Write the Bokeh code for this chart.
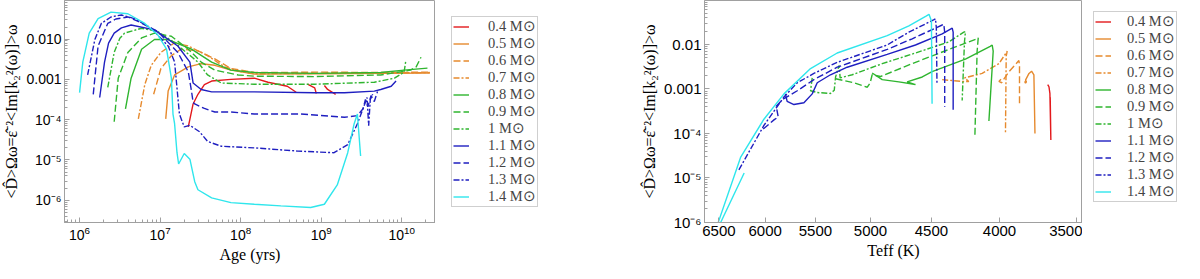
import math
from bokeh.plotting import figure
from bokeh.models import Range1d, Legend, LegendItem, FixedTicker, CustomJSTickFormatter, NumeralTickFormatter
from bokeh.layouts import row
from bokeh.embed import file_html
from bokeh.resources import INLINE

NaN = float("nan")

masses = ["0.4", "0.5", "0.6", "0.7", "0.8", "0.9", "1", "1.1", "1.2", "1.3", "1.4"]
colors = ["#e3191c", "#e68a2e", "#e68a2e", "#e68a2e", "#2fb52f", "#2fb52f", "#2fb52f",
          "#1f1fc0", "#1f1fc0", "#1f1fc0", "#2fe6ec"]
dashes = ["solid", "solid", "7 3", "6 2 2 2", "solid", "7 3", "6 2 2 2",
          "solid", "7 3", "6 2 2 2", "solid"]

# ---------- left panel: log10(age / yr) and log10(D) ----------
age_log_04 = [7.35, 7.41, 7.47, 7.55, 7.64, 7.88, 8.17, 8.34, 8.58, 8.69, NaN, 8.83, 8.92, 8.94, NaN, 9.04, 9.08, 9.18]
dage_log_04 = [-4.18, -3.61, -3.37, -3.13, -3.04, -3.00, -2.97, -3.07, -3.17, -3.32, NaN, -3.12, -3.21, -3.35, NaN, -3.15, -3.25, -3.37]
age_log_05 = [7.07, 7.10, 7.18, 7.35, 7.51, 7.68, 7.88, 8.17, 9.00, 9.80, 10.35]
dage_log_05 = [-3.98, -3.29, -2.89, -2.69, -2.61, -2.65, -2.77, -2.87, -2.86, -2.85, -2.84]
age_log_06 = [6.92, 7.01, 7.14, 7.26, 7.47, 7.68, 7.88, 8.17, 9.00, 9.80, 10.35]
dage_log_06 = [-3.37, -2.73, -2.41, -2.25, -2.29, -2.49, -2.73, -2.83, -2.82, -2.83, -2.82]
age_log_07 = [6.73, 6.81, 6.89, 7.01, 7.18, 7.35, 7.59, 7.80, 8.01, 8.17, 9.00, 9.80, 10.35]
dage_log_07 = [-3.98, -3.13, -2.65, -2.33, -2.09, -2.17, -2.41, -2.69, -2.81, -2.86, -2.85, -2.84, -2.83]
age_log_08 = [6.57, 6.64, 6.77, 6.93, 7.10, 7.39, 7.64, 7.88, 8.17, 8.92, 9.74, 10.03, 10.32]
dage_log_08 = [-3.73, -2.97, -2.25, -2.01, -2.01, -2.25, -2.57, -2.77, -2.83, -2.85, -2.83, -2.77, -2.72]
age_log_09 = [6.43, 6.46, 6.48, 6.60, 6.77, 6.93, 7.14, 7.35, 7.51, 7.68, 7.97, 8.17, 8.92, 9.74, 9.99, 10.11, 10.18, 10.24]
dage_log_09 = [-4.05, -3.40, -2.97, -2.33, -1.97, -1.85, -1.93, -2.25, -2.57, -2.77, -2.89, -2.92, -2.93, -2.89, -2.81, -2.77, -2.69, -2.45]
age_log_10 = [6.35, 6.43, 6.50, 6.56, 6.77, 6.97, 7.18, 7.47, 7.59, 7.76, 8.17, 8.92, 9.66, 9.91, 10.03, 10.05]
dage_log_10 = [-3.20, -2.33, -1.98, -1.85, -1.73, -1.81, -2.09, -2.57, -2.89, -3.09, -3.12, -3.12, -3.07, -2.97, -2.82, -2.55]
age_log_11 = [6.25, 6.31, 6.36, 6.43, 6.52, 6.64, 6.93, 7.22, 7.37, 7.41, 7.51, 7.64, 8.17, 8.92, 9.29, 9.66, 9.74, 9.87, 9.93]
dage_log_11 = [-3.45, -2.57, -2.10, -1.85, -1.72, -1.65, -1.77, -2.17, -2.57, -3.09, -3.25, -3.31, -3.31, -3.33, -3.33, -3.29, -3.25, -3.17, -3.04]
age_log_12 = [6.17, 6.23, 6.35, 6.45, 6.60, 6.75, 6.97, 7.22, 7.35, 7.39, 7.41, 7.43, 7.55, 7.68, 7.88, 8.17, 8.75, 9.29, 9.45, 9.52, 9.55, 9.58, 9.62, 9.66, 9.70]
dage_log_12 = [-3.37, -2.17, -1.61, -1.50, -1.45, -1.58, -1.81, -2.33, -2.81, -3.29, -3.57, -3.61, -3.72, -3.81, -3.81, -3.86, -3.86, -3.94, -3.90, -3.73, -3.50, -3.68, -3.40, -3.55, -3.30]
age_log_13 = [6.10, 6.19, 6.27, 6.39, 6.52, 6.68, 6.89, 7.10, 7.18, 7.24, 7.30, 7.37, 7.49, 7.59, 7.76, 8.17, 8.71, 9.16, 9.33, 9.45, 9.54, 9.57, 9.59, 9.61, 9.64]
dage_log_13 = [-2.89, -2.01, -1.61, -1.45, -1.40, -1.49, -1.73, -2.17, -2.57, -3.86, -4.18, -4.14, -4.30, -4.54, -4.66, -4.70, -4.78, -4.82, -4.62, -4.10, -3.62, -3.45, -4.15, -3.50, -3.37]
age_log_14 = [6.00, 6.04, 6.12, 6.23, 6.39, 6.60, 6.81, 6.97, 7.08, 7.14, 7.16, 7.18, 7.21, 7.23, 7.30, 7.37, 7.43, 7.47, 7.64, 7.88, 8.17, 8.50, 8.87, 9.04, 9.20, 9.33, 9.41, 9.45, 9.49]
dage_log_14 = [-3.33, -2.57, -1.85, -1.49, -1.33, -1.37, -1.61, -1.89, -2.25, -2.97, -3.86, -4.10, -4.82, -5.10, -4.84, -4.98, -5.54, -5.74, -5.94, -6.06, -6.10, -6.14, -6.18, -6.10, -5.62, -4.82, -4.10, -3.86, -4.90]

# ---------- right panel: Teff (K) and log10(D) ----------
teff_04 = [3680, 3672, 3666, 3660, 3664]
dteff_log_04 = [-2.90, -2.95, -3.10, -4.15, -3.20]
teff_05 = [3830, 3824, 3818, 3824, 3801, 3784, 3769, 3762]
dteff_log_05 = [-2.83, -2.87, -2.84, -2.80, -2.65, -2.60, -2.68, -4.00]
teff_06 = [3990, 4004, 3985, 3975, 3935, 3868, 3864, 3864]
dteff_log_06 = [-2.78, -2.83, -2.86, -2.80, -2.61, -2.36, -2.47, -3.36]
teff_07 = [4417, 4267, 4218, 4250, 4122, 4004, 3947, 3954, 3959]
dteff_log_07 = [-2.79, -2.83, -2.83, -2.75, -2.65, -2.43, -2.15, -2.26, -4.00]
teff_08 = [4986, 4900, 4761, 4626, 4693, 4572, 4495, 4243, 4065, 4051, 4044, 4074]
dteff_log_08 = [-2.64, -2.79, -2.84, -2.90, -2.84, -2.73, -2.61, -2.33, -2.04, -2.01, -2.15, -3.72]
teff_09 = [5312, 5147, 5028, 5003, 4986, 4915, 4626, 4366, 4158, 4150, 4158, 4174]
dteff_log_09 = [-2.77, -2.86, -2.96, -2.86, -2.68, -2.72, -2.40, -2.11, -1.87, -1.85, -2.15, -4.04]
teff_10 = [5531, 5547, 5483, 5359, 5324, 5312, 5279, 5270, 5161, 4900, 4626, 4366, 4255, 4243, 4250, 4267]
dteff_log_10 = [-2.75, -3.04, -3.08, -3.10, -3.03, -2.73, -2.47, -2.75, -2.68, -2.43, -2.19, -1.94, -1.72, -1.71, -1.94, -3.26]
teff_11 = [5794, 5776, 5709, 5611, 5531, 5483, 5359, 5206, 4858, 4626, 4417, 4341, 4334, 4334]
dteff_log_11 = [-3.11, -3.28, -3.35, -3.31, -3.11, -2.86, -2.68, -2.51, -2.22, -2.01, -1.76, -1.63, -1.72, -3.47]
teff_12 = [6020, 5906, 5866, 5886, 5825, 5676, 5515, 5297, 4858, 4652, 4417, 4405, 4398, 4398]
dteff_log_12 = [-3.90, -3.69, -3.63, -3.39, -3.24, -3.04, -2.79, -2.51, -2.11, -1.87, -1.56, -1.54, -1.72, -3.40]
teff_13 = [6279, 6013, 5808, 5676, 5515, 5297, 4858, 4679, 4480, 4469, 4462, 4457]
dteff_log_13 = [-4.82, -3.82, -3.18, -2.86, -2.65, -2.40, -2.01, -1.72, -1.44, -1.42, -1.62, -2.90]
teff_14 = [6222, 6496, 6519, 6261, 6013, 5808, 5547, 5297, 4858, 4679, 4542, 4519, 4500, 4495]
dteff_log_14 = [-4.89, -6.07, -6.07, -4.54, -3.68, -3.11, -2.54, -2.19, -1.80, -1.58, -1.36, -1.32, -1.47, -3.33]

left_x = [age_log_04, age_log_05, age_log_06, age_log_07, age_log_08, age_log_09,
          age_log_10, age_log_11, age_log_12, age_log_13, age_log_14]
left_y = [dage_log_04, dage_log_05, dage_log_06, dage_log_07, dage_log_08, dage_log_09,
          dage_log_10, dage_log_11, dage_log_12, dage_log_13, dage_log_14]
right_x = [teff_04, teff_05, teff_06, teff_07, teff_08, teff_09, teff_10, teff_11, teff_12, teff_13, teff_14]
right_y = [dteff_log_04, dteff_log_05, dteff_log_06, dteff_log_07, dteff_log_08, dteff_log_09,
           dteff_log_10, dteff_log_11, dteff_log_12, dteff_log_13, dteff_log_14]

teff_ticks = [3500, 4000, 4500, 5000, 5500, 6000, 6500]

YLABEL = "<D\u0302>\u03a9\u03c9=\u03b5\u0302\u207b\u00b2<Im[k\u2082\u00b2(\u03c9)]>\u03c9"
SERIF = "Liberation Serif"
SANS = "Liberation Sans"
GRAY = "#a0a0a0"
FIG_H = 262


def pow10(v):
    return [10 ** t if t == t else NaN for t in v]


def y_formatter(two_digit):
    first = "0.010" if two_digit else "0.01"
    return CustomJSTickFormatter(code="""
const e = Math.round(Math.log10(tick));
if (e == -2) return "%s";
if (e == -3) return "0.001";
const sup = {"-":"\u207b","0":"\u2070","1":"\u00b9","2":"\u00b2","3":"\u00b3","4":"\u2074","5":"\u2075","6":"\u2076","7":"\u2077","8":"\u2078","9":"\u2079"};
return "10" + String(e).split("").map(c => sup[c]).join("");
""" % first)


def style(p, tick_size):
    p.outline_line_color = GRAY
    p.xgrid.visible = False
    p.ygrid.visible = False
    for ax in (p.xaxis[0], p.yaxis[0]):
        ax.axis_line_color = GRAY
        ax.major_tick_line_color = GRAY
        ax.minor_tick_line_color = GRAY
        ax.major_tick_in = 5
        ax.major_tick_out = 0
        ax.minor_tick_in = 3
        ax.minor_tick_out = 0
        ax.major_label_text_font = SANS
        ax.major_label_text_font_size = tick_size
        ax.major_label_text_color = "black"
        ax.axis_label_text_font = SERIF
        ax.axis_label_text_font_style = "normal"
        ax.axis_label_text_font_size = "16px"
        ax.axis_label_text_color = "black"
        ax.major_label_standoff = 3
        ax.axis_label_standoff = 3


def legend_figure(width, xs_list, ys_list, margin, standoff):
    # a plain panel holding only the legend; its lines reuse the series data,
    # which lies far outside this panel's 0..1 ranges, so only the legend shows
    f = figure(width=width, height=FIG_H, x_range=Range1d(0, 1), y_range=Range1d(0, 1),
               x_axis_location=None, y_axis_location=None, output_backend="svg",
               toolbar_location=None, min_border=0)
    f.outline_line_color = None
    f.xgrid.visible = False
    f.ygrid.visible = False
    items = []
    for m, c, d, xs, ys in zip(masses, colors, dashes, xs_list, ys_list):
        r = f.line(xs, ys, line_color=c, line_width=1.4, line_dash=d)
        items.append(LegendItem(label=f"{m} M\u2299", renderers=[r]))
    lg = Legend(items=items, location="top_left")
    lg.label_text_font = SERIF
    lg.label_text_font_size = "14.5px"
    lg.label_height = 17
    lg.glyph_height = 17
    lg.glyph_width = 16
    lg.label_standoff = standoff
    lg.spacing = 0
    lg.padding = 1
    lg.margin = margin
    lg.border_line_color = GRAY
    lg.background_fill_alpha = 0
    f.add_layout(lg)
    return f


# ---------- left figure ----------
p1 = figure(frame_width=371, frame_height=222, x_axis_type="log", y_axis_type="log",
            x_range=Range1d(6.5e5, 2.63e10), y_range=Range1d(2.8e-7, 0.091),
            output_backend="svg", toolbar_location=None,
            min_border_left=64, min_border_right=0, min_border_top=0, min_border_bottom=0)
style(p1, "14px")
p1.xaxis.axis_label = "Age (yrs)"
p1.yaxis.axis_label = YLABEL
p1.yaxis.formatter = y_formatter(True)
for xs, ys, c, d in zip(left_x, left_y, colors, dashes):
    p1.line(pow10(xs), pow10(ys), line_color=c, line_width=1.4, line_dash=d)
leg1 = legend_figure(157, [pow10(v) for v in left_x], [pow10(v) for v in left_y], 16, 19)

# ---------- right figure ----------
p2 = figure(frame_width=378, frame_height=222, x_axis_type="log", y_axis_type="log",
            x_range=Range1d(6664, 3465), y_range=Range1d(0.99e-6, 0.098),
            output_backend="svg", toolbar_location=None,
            min_border_left=112, min_border_right=0, min_border_top=0, min_border_bottom=0)
style(p2, "15px")
p2.xaxis.axis_label = "Teff (K)"
p2.yaxis.axis_label = YLABEL
p2.yaxis.formatter = y_formatter(False)
p2.xaxis.ticker = FixedTicker(ticks=teff_ticks, minor_ticks=[])
p2.xaxis.formatter = NumeralTickFormatter(format="0")
for xs, ys, c, d in zip(right_x, right_y, colors, dashes):
    p2.line(xs, pow10(ys), line_color=c, line_width=1.4, line_dash=d)
leg2 = legend_figure(102, right_x, [pow10(v) for v in right_y], 11, 16)

layout = row(p1, leg1, p2, leg2)
open("out.html", "w").write(file_html(layout, INLINE))
